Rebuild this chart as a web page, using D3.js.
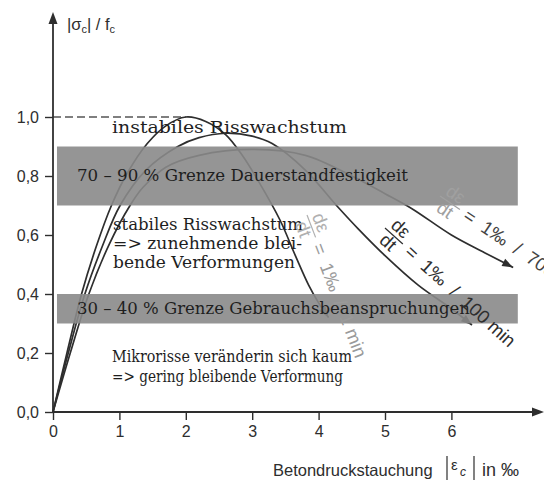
<!DOCTYPE html>
<html>
<head>
<meta charset="utf-8">
<script src="https://cdn.jsdelivr.net/npm/d3@7"></script>
<style>
  html, body { margin: 0; padding: 0; background: #fff; }
  svg { display: block; }
</style>
</head>
<body>
<svg id="chart" width="544" height="482"></svg>
<script>
// Stress–strain curves of concrete for three strain rates (‰ vs |σc|/fc)
const xTicks = [0, 1, 2, 3, 4, 5, 6];
const yTicks = [0, 0.2, 0.4, 0.6, 0.8, 1.0];
const yTickLabels = ["0,0", "0,2", "0,4", "0,6", "0,8", "1,0"];

// dε/dt = 1‰ / 1 min
const curve1min = [
  [0, 0], [0.21, 0.2], [0.43, 0.4], [0.65, 0.56], [0.88, 0.7], [1.12, 0.81],
  [1.42, 0.91], [1.7, 0.97], [2.0, 1.0], [2.3, 0.985], [2.6, 0.94],
  [2.85, 0.87], [3.1, 0.78], [3.42, 0.65], [3.65, 0.53], [3.85, 0.43],
  [4.0, 0.37], [4.15, 0.32]
];
// dε/dt = 1‰ / 100 min
const curve100min = [
  [0, 0], [0.23, 0.2], [0.48, 0.4], [0.74, 0.56], [1.01, 0.7], [1.4, 0.82],
  [1.88, 0.9], [2.2, 0.93], [2.6, 0.945], [3.0, 0.935], [3.3, 0.91],
  [3.8, 0.82], [4.27, 0.7], [4.6, 0.62], [5.0, 0.53], [5.5, 0.43],
  [6.0, 0.35], [6.31, 0.295]
];
// dε/dt = 1‰ / 700 min
const curve700min = [
  [0, 0], [0.26, 0.2], [0.54, 0.4], [0.85, 0.57], [1.16, 0.7], [1.35, 0.76],
  [1.7, 0.83], [2.2, 0.87], [3.0, 0.89], [3.8, 0.87], [4.5, 0.8],
  [5.0, 0.74], [5.4, 0.69], [6.0, 0.6], [6.5, 0.54], [6.93, 0.49]
];

// shaded limit bands [lower, upper] in |σc|/fc
const bandDauerstand = [0.7, 0.9];
const bandGebrauch = [0.3, 0.4];
const bandXRange = [0.06, 7.0];

const svg = d3.select("#chart");
const x = d3.scaleLinear().domain([0, 6]).range([53, 451.4]);
const y = d3.scaleLinear().domain([0, 1]).range([412, 117]);

const sans = "'Liberation Sans', Arial, sans-serif";
const serif = "'DejaVu Serif', serif";
const ink = "#2e2e2e";

// ---- curves ----
const line = d3.line().x(d => x(d[0])).y(d => y(d[1])).curve(d3.curveCatmullRom.alpha(0.5));

function drawCurve(data, color) {
  const p = svg.append("path")
    .attr("d", line(data))
    .attr("fill", "none")
    .attr("stroke", color)
    .attr("stroke-width", 1.7);
  // arrowhead along the tangent at the end of the path
  const node = p.node();
  const L = node.getTotalLength();
  const a = node.getPointAtLength(L);
  const b = node.getPointAtLength(L - 6);
  const ang = Math.atan2(a.y - b.y, a.x - b.x) * 180 / Math.PI;
  svg.append("path")
    .attr("d", "M0,0 L-11,-4 L-11,4 Z")
    .attr("fill", color)
    .attr("transform", `translate(${a.x},${a.y}) rotate(${ang})`);
}

// dashed reference at |σc|/fc = 1,0
svg.append("line")
  .attr("x1", x(0)).attr("x2", x(2.0))
  .attr("y1", y(1)).attr("y2", y(1))
  .attr("stroke", "#555").attr("stroke-width", 1.3)
  .attr("stroke-dasharray", "8,4");

drawCurve(curve1min, ink);
drawCurve(curve100min, ink);
drawCurve(curve700min, ink);

// ---- bands ----
function band(r) {
  svg.append("rect")
    .attr("x", x(bandXRange[0]))
    .attr("width", x(bandXRange[1]) - x(bandXRange[0]))
    .attr("y", y(r[1]))
    .attr("height", y(r[0]) - y(r[1]))
    .attr("fill", "#8a8a8a")
    .attr("opacity", 0.9);
}
band(bandDauerstand);
band(bandGebrauch);

// ---- serif annotations ----
function serifText(str, x0, yb, x1) {
  const t = svg.append("text")
    .attr("x", x0).attr("y", yb)
    .attr("font-family", serif)
    .attr("font-size", 16.5)
    .attr("fill", "#1e1e1e")
    .text(str);
  if (x1) t.attr("textLength", x1 - x0).attr("lengthAdjust", "spacingAndGlyphs");
}
serifText("instabiles Risswachstum", 112, 133, 347);
serifText("70 – 90 % Grenze Dauerstandfestigkeit", 77, 181, 408);
serifText("stabiles Risswachstum", 113, 230, 303);
serifText("=> zunehmende blei-", 113, 249, 302);
serifText("bende Verformungen", 113, 268, 295);
serifText("30 – 40 % Grenze Gebrauchsbeanspruchungen", 77, 314, 470);
serifText("Mikrorisse veränderin sich kaum", 112, 362, 352);
serifText("=> gering bleibende Verformung", 112, 382, 343);

// ---- rate labels along the descending branches ----
function rateLabel(ax, ay, angle, rest, fracColor, color, size) {
  const g = svg.append("g")
    .attr("transform", `translate(${ax},${ay}) rotate(${angle})`)
    .attr("font-family", sans)
    .attr("font-size", size);
  g.append("text").attr("x", 12).attr("y", -4).attr("text-anchor", "middle")
    .attr("fill", fracColor).text("dε");
  g.append("line").attr("x1", 0).attr("x2", 24).attr("y1", 0).attr("y2", 0)
    .attr("stroke", fracColor).attr("stroke-width", 1.2);
  g.append("text").attr("x", 12).attr("y", size * 0.8).attr("text-anchor", "middle")
    .attr("fill", fracColor).text("dt");
  g.append("text").attr("x", 31).attr("y", size * 0.35).attr("xml:space", "preserve")
    .attr("fill", color).text(rest);
}
rateLabel(307, 215, 69, "=  1‰  /  1 min", "#b0b0b0", "#9a9a9a", 18.5);
rateLabel(385, 228, 42, "=  1‰  /  100 min", ink, ink, 18.5);
rateLabel(440, 196, 34, "=  1‰  /  700 min", "#a0a0a0", "#444", 18.5);

// ---- axes ----
const xAxis = d3.axisBottom(x).tickValues(xTicks).tickSize(8).tickPadding(6)
  .tickFormat(d3.format("d"));
const gx = svg.append("g").attr("transform", `translate(0,${y(0)})`).call(xAxis);
gx.select(".domain").remove();
gx.selectAll("line").attr("stroke", ink).attr("stroke-width", 1.4);
gx.selectAll("text").attr("font-family", sans).attr("font-size", 16).attr("fill", ink);

const yAxis = d3.axisLeft(y).tickValues(yTicks).tickSize(8).tickPadding(6)
  .tickFormat((d, i) => yTickLabels[i]);
const gy = svg.append("g").attr("transform", `translate(${x(0)},0)`).call(yAxis);
gy.select(".domain").remove();
gy.selectAll("line").attr("stroke", ink).attr("stroke-width", 1.4);
gy.selectAll("text").attr("font-family", sans).attr("font-size", 16).attr("fill", ink);

// axis lines with arrowheads
svg.append("line").attr("x1", x(0)).attr("x2", 534).attr("y1", y(0)).attr("y2", y(0))
  .attr("stroke", ink).attr("stroke-width", 1.8);
svg.append("path").attr("d", `M544,${y(0)} L532,${y(0) - 4.5} L532,${y(0) + 4.5} Z`).attr("fill", ink);
svg.append("line").attr("x1", x(0)).attr("x2", x(0)).attr("y1", y(0)).attr("y2", 22)
  .attr("stroke", ink).attr("stroke-width", 1.8);
svg.append("path").attr("d", `M${x(0)},12 L${x(0) - 4.5},24 L${x(0) + 4.5},24 Z`).attr("fill", ink);

// axis titles
const yt = svg.append("text").attr("x", 67).attr("y", 30)
  .attr("font-family", sans).attr("font-size", 16.5).attr("fill", ink);
yt.append("tspan").text("|σ");
yt.append("tspan").attr("font-size", 11).attr("dy", 3).text("c");
yt.append("tspan").attr("dy", -3).text("| / f");
yt.append("tspan").attr("font-size", 11).attr("dy", 3).text("c");

const xt = svg.append("g").attr("font-family", sans).attr("font-size", 16.5).attr("fill", ink);
xt.append("text").attr("x", 273).attr("y", 476).text("Betondruckstauchung");
xt.append("line").attr("x1", 447).attr("x2", 447).attr("y1", 456).attr("y2", 480)
  .attr("stroke", ink).attr("stroke-width", 1.2);
xt.append("text").attr("x", 451).attr("y", 470).attr("font-size", 15).text("ε");
xt.append("text").attr("x", 460).attr("y", 476).attr("font-size", 12).attr("font-style", "italic").text("c");
xt.append("line").attr("x1", 474).attr("x2", 474).attr("y1", 456).attr("y2", 480)
  .attr("stroke", ink).attr("stroke-width", 1.2);
xt.append("text").attr("x", 482).attr("y", 476).attr("font-size", 18).text("in ‰");
</script>
</body>
</html>
